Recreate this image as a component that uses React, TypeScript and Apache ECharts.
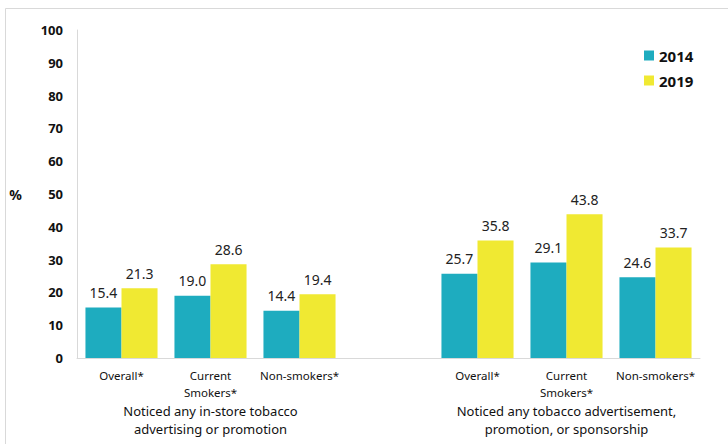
import React, { useEffect, useRef } from "react";
import * as echarts from "echarts";

const categories = ["Overall*", "Current\nSmokers*", "Non-smokers*", "", "Overall*", "Current\nSmokers*", "Non-smokers*"];
const groupLabels = ["", "Noticed any in-store tobacco\nadvertising or promotion", "", "", "", "Noticed any tobacco advertisement,\npromotion, or sponsorship", ""];
const values2014: (number | null)[] = [15.4, 19.0, 14.4, null, 25.7, 29.1, 24.6];
const values2019: (number | null)[] = [21.3, 28.6, 19.4, null, 35.8, 43.8, 33.7];
const seriesNames = ["2014", "2019"];
const colors = ["#1eacbf", "#f0e932"];

const FONT = "'Noto Sans', sans-serif";

export default function App() {
  const ref = useRef<HTMLDivElement>(null);
  useEffect(() => {
    const chart = echarts.init(ref.current!, null, { renderer: "svg" });
    chart.setOption({
      animation: false,
      backgroundColor: "#ffffff",
      textStyle: { fontFamily: FONT },
      graphic: [
        {
          type: "rect",
          shape: { x: 5.5, y: 8.5, width: 740, height: 460 },
          style: { fill: "none", stroke: "#d9d9d9", lineWidth: 1 },
          silent: true,
        },
      ],
      grid: { left: 77, right: 28, top: 30, bottom: 86, containLabel: false },
      legend: {
        orient: "vertical",
        left: 639,
        top: 43,
        itemWidth: 10,
        itemHeight: 10,
        itemGap: 10,
        itemTextGap: 4,
        icon: "rect",
        textStyle: { fontFamily: FONT, fontSize: 15, fontWeight: "bold", color: "#111" },
        data: seriesNames,
      },
      xAxis: [
        {
          type: "category",
          data: categories,
          axisLine: { lineStyle: { color: "#d9d9d9" } },
          axisTick: { show: false },
          axisLabel: {
            interval: 0,
            margin: 9,
            fontFamily: FONT,
            fontSize: 11.5,
            color: "#111",
            lineHeight: 17,
          },
        },
        {
          type: "category",
          position: "bottom",
          offset: 36,
          data: groupLabels,
          axisLine: { show: false },
          axisTick: { show: false },
          axisLabel: {
            interval: 0,
            fontFamily: FONT,
            fontSize: 13,
            color: "#111",
            lineHeight: 18,
          },
        },
      ],
      yAxis: {
        type: "value",
        min: 0,
        max: 100,
        interval: 10,
        name: "%",
        nameLocation: "middle",
        nameRotate: 0,
        nameGap: 55,
        nameTextStyle: { fontFamily: FONT, fontSize: 14, fontWeight: "bold", color: "#111", padding: [0, 0, 18, 0] },
        axisLine: { show: true, lineStyle: { color: "#d9d9d9" } },
        axisTick: { show: false },
        splitLine: { show: false },
        axisLabel: { fontFamily: FONT, fontSize: 13, fontWeight: "bold", color: "#111", margin: 14 },
      },
      series: [
        {
          name: seriesNames[0],
          type: "bar",
          data: values2014,
          itemStyle: { color: colors[0] },
          barGap: "0%",
          barCategoryGap: "19%",
          label: { show: true, position: "top", distance: 8, formatter: (p: any) => Number(p.value).toFixed(1), fontFamily: FONT, fontSize: 14, color: "#222" },
        },
        {
          name: seriesNames[1],
          type: "bar",
          data: values2019,
          itemStyle: { color: colors[1] },
          barGap: "0%",
          barCategoryGap: "19%",
          label: { show: true, position: "top", distance: 8, formatter: (p: any) => Number(p.value).toFixed(1), fontFamily: FONT, fontSize: 14, color: "#222" },
        },
      ],
    });
    return () => chart.dispose();
  }, []);
  return <div ref={ref} style={{ position: "fixed", left: 0, top: 0, width: 728, height: 444 }} />;
}
